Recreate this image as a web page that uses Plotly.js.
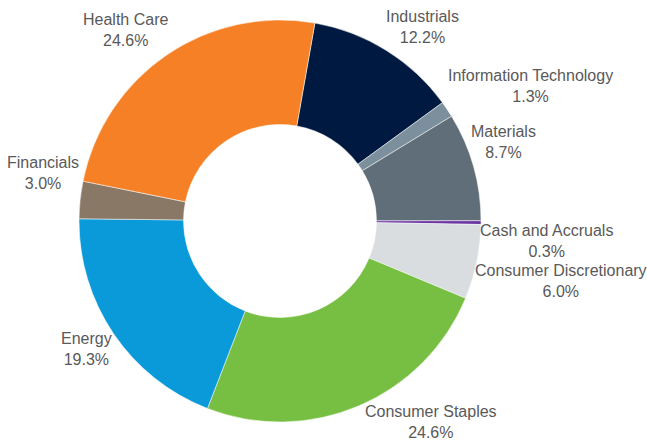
<!DOCTYPE html>
<html>
<head>
<meta charset="utf-8">
<script src="https://cdn.plot.ly/plotly-3.0.1.min.js"></script>
<style>
  html, body { margin: 0; padding: 0; background: #fff; }
  #chart { width: 647px; height: 441px; }
</style>
</head>
<body>
<div id="chart"></div>
<script>
// sector weights, clockwise from the top
var sectors = ["Industrials", "Information Technology", "Materials", "Cash and Accruals",
               "Consumer Discretionary", "Consumer Staples", "Energy", "Financials", "Health Care"];
var weights = [12.2, 1.3, 8.7, 0.3, 6.0, 24.6, 19.3, 3.0, 24.6];
var sectorColors = ["#001941", "#7b8f9c", "#5f6e78", "#6a35a0",
                    "#d9dde0", "#76bf43", "#0a9ad9", "#8a7866", "#f58025"];

// label nudges in px (excel shuffles crowded labels a bit)
var labelNudge = [[16, 9], [40, 5], [-14, -12], [-9, 18], [-8, 0], [58, -17], [5, -6], [11, -22], [-20, 7]];

var W = 647, H = 441;
var cx = 280, cy = 221, R = 201;
var startAngle = 10;
var fontSize = 16;

function drawChart() {
    var total = 0;
    for (var i = 0; i < weights.length; i++) total += weights[i];

    // labels sit just outside the ring at each slice's mid angle
    var annotations = [];
    var acc = 0;
    for (var i = 0; i < sectors.length; i++) {
        var mid = startAngle + (acc + weights[i] / 2) / total * 360;
        acc += weights[i];
        var a = mid * Math.PI / 180;
        var s = Math.sin(a), c = Math.cos(a);
        var pct = weights[i].toFixed(1) + "%";
        var chars = Math.max(sectors[i].length, pct.length);
        var halfW = chars * 7.3 / 2, halfH = 22;
        var t = Math.min(Math.abs(s) > 1e-6 ? halfW / Math.abs(s) : 1e9,
                         Math.abs(c) > 1e-6 ? halfH / Math.abs(c) : 1e9);
        var d = R + 12 + t;
        var px = cx + d * s + labelNudge[i][0];
        var py = cy - d * c + labelNudge[i][1];
        annotations.push({
            x: px / W, y: 1 - py / H,
            xref: 'paper', yref: 'paper',
            xanchor: 'center', yanchor: 'middle',
            text: sectors[i] + "<br>" + pct,
            showarrow: false,
            align: 'center',
            font: { family: 'Liberation Sans, Arial, sans-serif', size: fontSize, color: '#595959' }
        });
    }

    var donut = {
        type: 'pie',
        labels: sectors,
        values: weights,
        textinfo: 'none',
        hoverinfo: 'label+percent',
        sort: false,
        direction: 'clockwise',
        rotation: startAngle,
        hole: 0.48,
        marker: {
            colors: sectorColors,
            line: { color: '#ffffff', width: 0.5 }
        },
        domain: { x: [(cx - R) / W, (cx + R) / W], y: [(H - cy - R) / H, (H - cy + R) / H] }
    };

    var layout = {
        width: W,
        height: H,
        margin: { l: 0, r: 0, t: 0, b: 0 },
        showlegend: false,
        paper_bgcolor: '#ffffff',
        annotations: annotations
    };

    Plotly.newPlot('chart', [donut], layout, { displayModeBar: false, staticPlot: true });
}

drawChart();
</script>
</body>
</html>
